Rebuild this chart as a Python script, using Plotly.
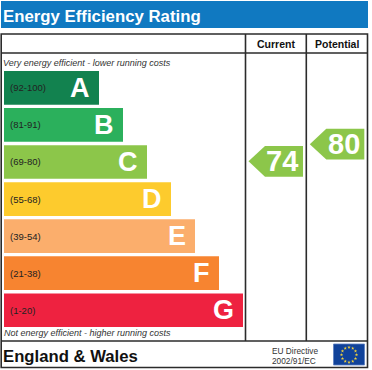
import numpy as np
import plotly.graph_objects as go

W, H = 372, 370
title = "Energy Efficiency Rating"
bands = ["A", "B", "C", "D", "E", "F", "G"]
ranges = ["(92-100)", "(81-91)", "(69-80)", "(55-68)", "(39-54)", "(21-38)", "(1-20)"]
bar_lengths = [95, 119, 143, 167, 191, 215, 239]
colors = ["#12824f", "#2bb05c", "#8cc64a", "#fdcb2d", "#fbae6c", "#f78430", "#ee2240"]
current = 74
potential = 80
columns = ["Current", "Potential"]
top_note = "Very energy efficient - lower running costs"
bottom_note = "Not energy efficient - higher running costs"
region = "England & Wales"
directive = ["EU Directive", "2002/91/EC"]

BAR_LEFT = 4
FONT = "Liberation Sans"
LINE = "#2b2b2b"

fig = go.Figure()
fig.add_trace(go.Bar(
    y=bands, x=bar_lengths, base=BAR_LEFT, orientation="h",
    marker=dict(color=colors, line=dict(width=0)), yaxis="y2", xaxis="x",
    showlegend=False, hoverinfo="skip",
))

# EU flag stars on the pixel axes
ang = np.linspace(0, 2 * np.pi, 12, endpoint=False)
fig.add_trace(go.Scatter(
    x=349 + 7.5 * np.cos(ang), y=354.7 + 7.5 * np.sin(ang), mode="markers",
    marker=dict(symbol="star", size=2.6, color="#f5d33a"),
    xaxis="x", yaxis="y", showlegend=False, hoverinfo="skip",
))

shapes = []
def rect(x0, y0, x1, y1, fill=None, lw=0, lc=LINE):
    shapes.append(dict(type="rect", xref="x", yref="y", x0=x0, y0=y0, x1=x1, y1=y1,
                       fillcolor=fill or "rgba(0,0,0,0)", line=dict(width=lw, color=lc), layer="below"))
def line(x0, y0, x1, y1, lw=1.6):
    shapes.append(dict(type="line", xref="x", yref="y", x0=x0, y0=y0, x1=x1, y1=y1,
                       line=dict(width=lw, color=LINE), layer="below"))

rect(1, 1, 368, 28, fill="#1079c1")
rect(1.2, 34, 367.5, 367.5, lw=1.6)
line(1.2, 53, 367.5, 53)
line(1.2, 341, 367.5, 341)
line(245.5, 34, 245.5, 341)
line(306.3, 34, 306.3, 341)
rect(333.5, 344, 364.5, 365, fill="#10429a", lw=0.8, lc="#5a7fc0")

# rating arrows, anchored on the rating axis
def arrow(x_tip, value):
    shapes.append(dict(
        type="path", xref="x", yref="y3", xsizemode="pixel", ysizemode="pixel",
        xanchor=x_tip, yanchor=value,
        path="M 0 0 L 16.5 15.4 L 54.5 15.4 L 54.5 -15.4 L 16.5 -15.4 Z",
        fillcolor="#8cc64a", line=dict(width=0), layer="above"))
arrow(248.5, current)
arrow(309.8, potential)

ann = []
def text(x, y, s, size, color="#111", anchor="left", bold=False, italic=False, yref="y"):
    ann.append(dict(x=x, y=y, xref="x", yref=yref, text=f"<b>{s}</b>" if bold else s, showarrow=False,
                    xanchor=anchor, yanchor="middle", xshift=0, yshift=0,
                    font=dict(family=FONT, size=size, color=color,
                              style="italic" if italic else "normal")))

text(1, 16, title, 16.8, "white", bold=True)
text(276, 44, columns[0], 10.5, anchor="center", bold=True)
text(337, 44, columns[1], 10.5, anchor="center", bold=True)
text(1, 63, top_note, 9, "#333", italic=True)
text(2, 333, bottom_note, 9, "#333", italic=True)
text(1, 356, region, 16.7, "#111", bold=True)
text(270, 350.7, directive[0], 8.3, "#333")
text(270, 360.7, directive[1], 8.3, "#333")
for b, r, v in zip(bands, ranges, bar_lengths):
    text(BAR_LEFT + 3.5, b, r, 9.5, "#222", yref="y2")
    text(BAR_LEFT + v - 7.5, b, b, 27, "white", anchor="right", bold=True, yref="y2")
text(300, current, str(current), 29, "white", anchor="right", bold=True, yref="y3")
text(362, potential, str(potential), 29, "white", anchor="right", bold=True, yref="y3")

# rating axis: 2.85 px per rating point, 74 at y = 161.3
PX = 2.85
r_top = 74 + 161.3 / PX
r_bottom = 74 - (H - 161.3) / PX

fig.update_layout(
    width=W, height=H, margin=dict(l=0, r=0, t=0, b=0, pad=0),
    paper_bgcolor="white", plot_bgcolor="rgba(0,0,0,0)", bargap=3.4 / 36.9,
    xaxis=dict(range=[0, W], visible=False, fixedrange=True),
    yaxis=dict(range=[H, 0], visible=False, fixedrange=True),
    yaxis2=dict(domain=[1 - 328.8 / H, 1 - 69.3 / H], anchor="x", range=[6.5, -0.5],
                type="category", categoryorder="array", categoryarray=bands, visible=False),
    yaxis3=dict(range=[r_bottom, r_top], overlaying="y", visible=False),
    shapes=shapes, annotations=ann,
)
fig.write_html("out.html", config={"displayModeBar": False},
               post_script="document.body.style.margin='0';")
